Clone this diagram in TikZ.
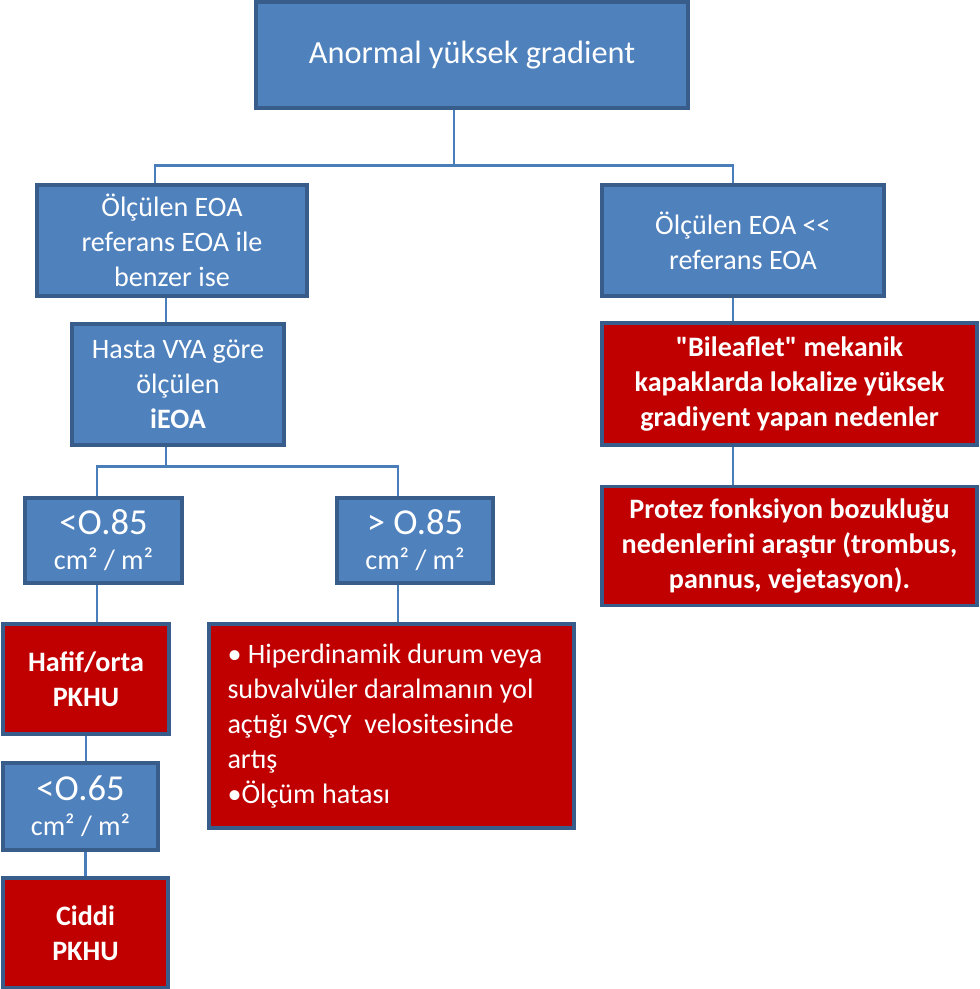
\documentclass[tikz,border=0pt]{standalone}
\usepackage{fontspec}
\setmainfont{Carlito}[Ligatures=TeXOff]
\usetikzlibrary{positioning, calc}
\definecolor{cBoxFill}{RGB}{79, 129, 189}
\definecolor{cBoxDraw}{RGB}{56, 93, 138}
\definecolor{cAlertFill}{RGB}{192, 0, 0}
\definecolor{cLink}{RGB}{74, 126, 187}
\tikzset{
    font=\fontsize{20}{25}\selectfont,
    % --- blue question box ---
    boxBlue/.style={
        rectangle, draw=cBoxDraw, fill=cBoxFill,
        line width=2.5pt, text=white,
        align=center, inner sep=2pt
    },
    % --- red result box (same frame, bold text) ---
    boxRed/.style={
        boxBlue, fill=cAlertFill,
        font=\fontsize{20}{25}\selectfont\bfseries
    },
    % --- threshold value ---
    bigNum/.style={
        font=\fontsize{26}{30}\selectfont
    },
    % --- connector ---
    link/.style={
        draw=cLink, line width=2pt
    }
}

\begin{document}
\begin{tikzpicture}

	\useasboundingbox (0,0) rectangle (24.5,-24.725);

	% =========================================
	% 1. boxes
	% =========================================

	% --- root ---
	\node[boxBlue, minimum width=10.8cm, minimum height=2.65cm,
		font=\fontsize{23}{28}\selectfont] (top) at (11.8, -1.375) {Anormal yüksek gradient};

	% --- left branch ---
	\node[boxBlue, minimum width=6.75cm, minimum height=2.775cm] (evalSim) at (4.3, -6.0125)
		{Ölçülen EOA\\ referans EOA ile\\ benzer ise};
	\node[boxBlue, minimum width=5.3cm, minimum height=3.025cm] (hasta) at (4.45, -9.6125)
		{Hasta VYA göre\\ ölçülen\\ \textbf{iEOA}};

	\node[boxBlue, minimum width=3.925cm, minimum height=2.125cm] (lowA) at (2.5875, -13.5125)
		{{\fontsize{26}{30}\selectfont <O.85}\\ cm² / m²};
	\node[boxBlue, minimum width=3.9cm, minimum height=2.125cm] (highA) at (10.375, -13.5125)
		{{\fontsize{26}{30}\selectfont > O.85}\\ cm² / m²};

	\node[boxRed, minimum width=4.15cm, minimum height=2.75cm] (hafif) at (2.15, -16.975)
		{Hafif/orta\\ PKHU};
	\node[boxRed, minimum width=9.125cm, minimum height=5.1cm, text width=8.2cm, align=flush left,
		font=\fontsize{20}{25}\selectfont] (causes) at (9.7875, -18.15)
		{• Hiperdinamik durum veya\\ subvalvüler daralmanın yol\\ açtığı SVÇY\ \ velositesinde\\ artış\\ •Ölçüm hatası};

	\node[boxBlue, minimum width=3.875cm, minimum height=2.175cm] (lowB) at (2.0125, -20.1625)
		{{\fontsize{26}{30}\selectfont <O.65}\\ cm² / m²};
	\node[boxRed, minimum width=4.125cm, minimum height=2.75cm] (ciddi) at (2.1375, -23.325)
		{Ciddi\\ PKHU};

	% --- right branch ---
	\node[boxBlue, minimum width=7.05cm, minimum height=2.775cm] (evalLow) at (18.575, -6.0125)
		{Ölçülen EOA <{}<\\ referans EOA};
	\node[boxRed, minimum width=9.375cm, minimum height=3.05cm] (bilea) at (19.7375, -9.6)
		{"Bileaflet" mekanik\\ kapaklarda lokalize yüksek\\ gradiyent yapan nedenler};
	\node[boxRed, minimum width=9.375cm, minimum height=2.975cm] (protez) at (19.7375, -13.65)
		{Protez fonksiyon bozukluğu\\ nedenlerini araştır (trombus,\\ pannus, vejetasyon).};

	% =========================================
	% 2. connectors
	% =========================================

	% root -> both EOA boxes
	\draw[link] ([xshift=-0.45cm]top.south) -- ++(0,-1.4) coordinate (busTop);
	\draw[link] ([xshift=-0.425cm]evalSim.north) |- (busTop) -| ([xshift=-0.25cm]evalLow.north);

	% left column
	\draw[link] ([xshift=-0.3cm]hasta.north) -- ([xshift=-0.3cm]hasta.north |- evalSim.south);
	\draw[link] ([xshift=-0.3cm]hasta.south) -- ++(0,-0.5) coordinate (busMid);
	\draw[link] ([xshift=-0.1625cm]lowA.north) |- (busMid) -| ([xshift=-0.425cm]highA.north);

	\draw[link] ([xshift=0.275cm]hafif.north) -- ([xshift=0.275cm]hafif.north |- lowA.south);
	\draw[link] ([xshift=0.1625cm]causes.north) -- ([xshift=0.1625cm]causes.north |- highA.south);
	\draw[link] ([xshift=0.1375cm]lowB.north) -- ([xshift=0.1375cm]lowB.north |- hafif.south);
	\draw[link] (ciddi.north) -- (ciddi.north |- lowB.south);

	% right column
	\draw[link] ([xshift=-1.4125cm]bilea.north) -- ([xshift=-1.4125cm]bilea.north |- evalLow.south);
	\draw[link] ([xshift=-1.4125cm]protez.north) -- ([xshift=-1.4125cm]bilea.south);

\end{tikzpicture}
\end{document}
